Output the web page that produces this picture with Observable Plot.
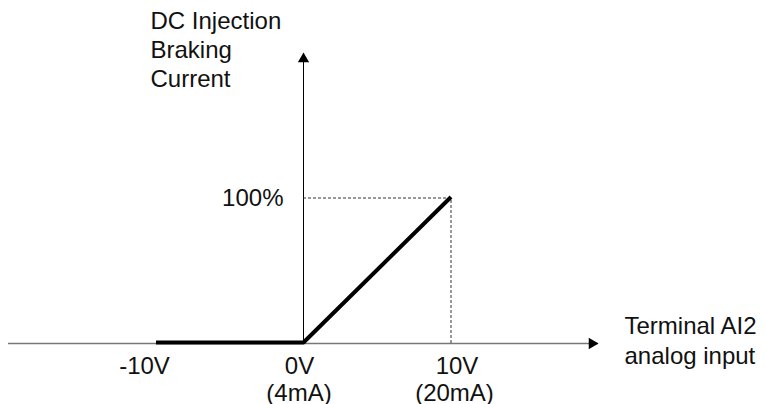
<!DOCTYPE html>
<html>
<head>
<meta charset="utf-8">
<script src="https://cdn.jsdelivr.net/npm/d3@7"></script>
<script src="https://cdn.jsdelivr.net/npm/@observablehq/plot@0.6"></script>
<style>
  html, body { margin: 0; padding: 0; background: #fff; }
  #chart svg { display: block; }
</style>
</head>
<body>
<div id="chart"></div>
<script>
// ---- data ----
const curveX = [-10, 0, 10];          // V
const curveY = [0, 0, 100];           // % braking current
const xTicks = [-10, 0, 10];
const xTickLabels = ["-10V", "0V", "10V"];
const xTickSubLabels = ["", "(4mA)", "(20mA)"];
const xTickDx = [-11.5, -4, 6];
const xSubDx = [0, -4.5, 3.5];
const yTicks = [100];
const yTickLabels = ["100%"];
const xDomain = [-20, 20];
const yDomain = [0, 200];
const yTitle = "DC Injection\nBraking\nCurrent";
const xTitle = "Terminal AI2\nanalog input";

const curve = curveX.map((x, i) => ({x, y: curveY[i]}));
const ticks = xTicks.map((x, i) => ({x, label: xTickLabels[i], sub: xTickSubLabels[i], dx: xTickDx[i], sdx: xSubDx[i]}));
const FONT = 24;

const marks = [
  // x axis line
  Plot.ruleY([yDomain[0]], {x1: xDomain[0], x2: xDomain[1], stroke: "#777", strokeWidth: 1.5}),
  // y axis line
  Plot.ruleX([0], {y1: yDomain[0], y2: yDomain[1] - 4, stroke: "#000", strokeWidth: 1}),
  // arrowheads
  Plot.dot([{x: xDomain[1], y: 0}], {x: "x", y: "y", symbol: "triangle", r: 4.2, fill: "#000", stroke: "none", rotate: 90, dx: -6.5}),
  Plot.dot([{x: 0, y: yDomain[1]}], {x: "x", y: "y", symbol: "triangle", r: 4.2, fill: "#000", stroke: "none", dy: 6.5}),
  // dashed guides
  Plot.ruleY(yTicks, {x1: 0, x2: curveX[2], stroke: "#333", strokeWidth: 1, strokeDasharray: "3,2"}),
  Plot.ruleX([curveX[2]], {y1: 0, y2: yTicks[0], stroke: "#333", strokeWidth: 1, strokeDasharray: "3,2"}),
  // thick curve
  Plot.line(curve, {x: "x", y: "y", stroke: "#000", strokeWidth: 4, strokeLinejoin: "miter", strokeLinecap: "butt", dy: -1}),
  // tick labels
  ...ticks.map(t => Plot.text([t], {x: "x", y: () => 0, text: "label", dx: t.dx, dy: 30, lineAnchor: "bottom", textAnchor: "middle", fontSize: FONT, fill: "#111"})),
  ...ticks.filter(t => t.sub).map(t => Plot.text([t], {x: "x", y: () => 0, text: "sub", dx: t.sdx, dy: 57, lineAnchor: "bottom", textAnchor: "middle", fontSize: FONT, fill: "#111"})),
  Plot.text(yTicks.map((v, i) => ({v, label: yTickLabels[i]})), {x: () => 0, y: "v", text: "label", dx: -20, lineAnchor: "middle", textAnchor: "end", fontSize: FONT, fill: "#111"}),
  // axis titles
  Plot.text([xTitle], {x: () => xDomain[1], y: () => 0, text: d => d, dx: 26, dy: 20, lineAnchor: "bottom", textAnchor: "start", fontSize: FONT, lineHeight: 30 / FONT, fill: "#111"}),
  Plot.text([yTitle], {x: () => 0, y: () => yDomain[1], text: d => d, dx: -153, dy: 34, lineAnchor: "bottom", textAnchor: "start", fontSize: FONT, lineHeight: 29 / FONT, fill: "#111"})
];

const chart = Plot.plot({
  width: 765,
  height: 404,
  marginLeft: 8,
  marginRight: 167,
  marginTop: 52,
  marginBottom: 61,
  x: {domain: xDomain, axis: null},
  y: {domain: yDomain, axis: null},
  style: {fontFamily: "'Liberation Sans', Arial, sans-serif", background: "#fff", overflow: "visible"},
  marks
});
document.getElementById("chart").append(chart);
</script>
</body>
</html>
